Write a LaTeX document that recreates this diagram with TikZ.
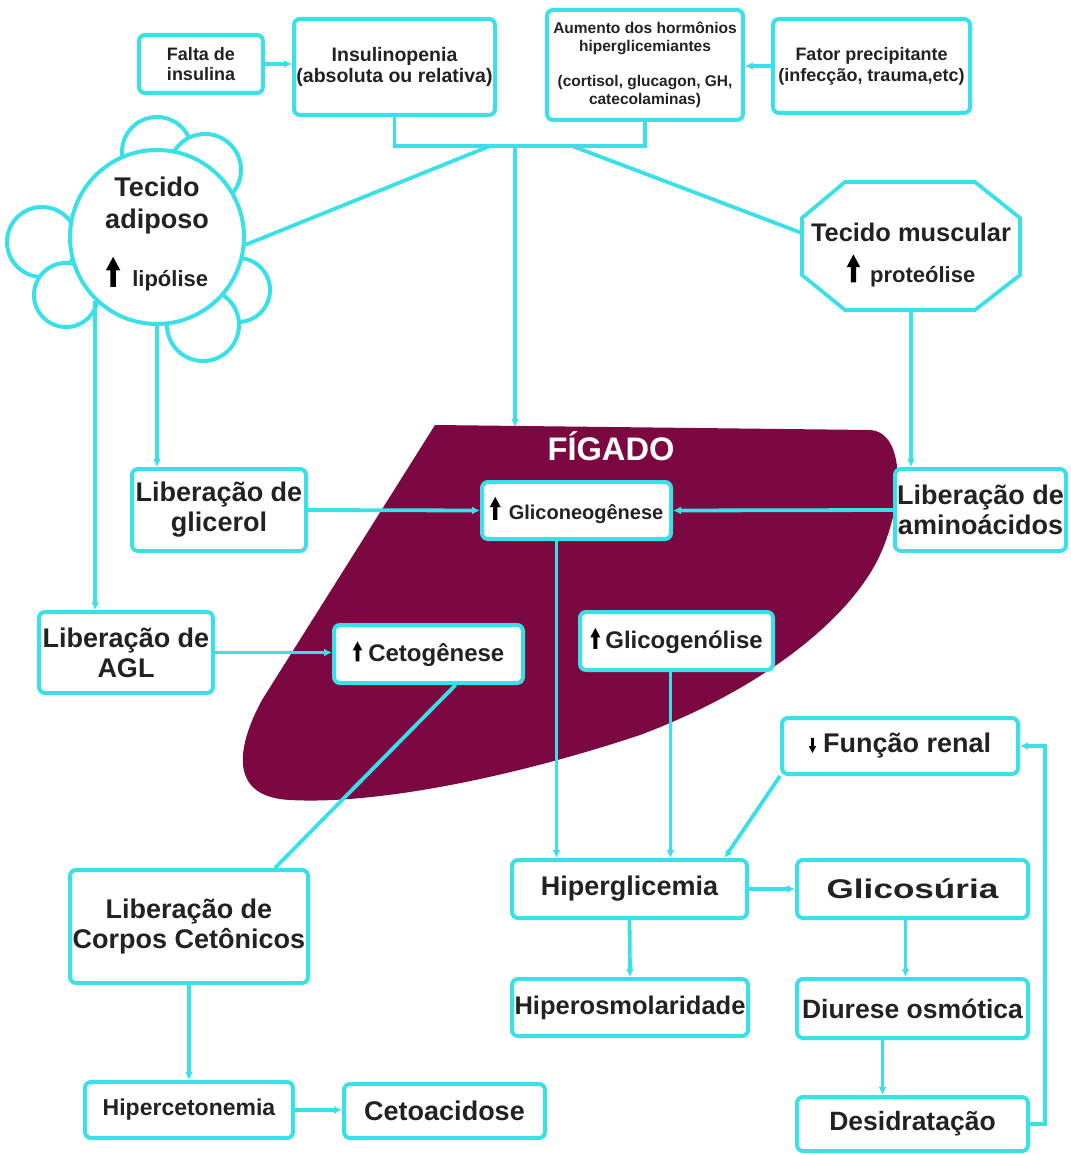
\documentclass[tikz,border=0pt]{standalone}
\usepackage{fontspec}
\setmainfont{Liberation Sans}
\usepackage{graphicx}
\usepackage{tikz}
\usetikzlibrary{arrows.meta}

\definecolor{ciano}{RGB}{58,224,232}
\definecolor{vinho}{RGB}{124,8,66}
\definecolor{escrita}{RGB}{34,34,34}

\newcommand{\fonte}[2]{\fontsize{#1}{#2}\selectfont\bfseries}
\newcommand{\setacima}[1]{\tikz[baseline=0pt,x=#1pt,y=#1pt,sharp corners]\fill[black] (-1.9,0) -- (-1.9,11) -- (-4.8,11) -- (0,20) -- (4.8,11) -- (1.9,11) -- (1.9,0) -- cycle;}
\newcommand{\setabaixo}[1]{\tikz[baseline=0pt,x=#1pt,y=#1pt,sharp corners]\fill[black] (-1.9,20) -- (-1.9,9) -- (-4.8,9) -- (0,0) -- (4.8,9) -- (1.9,9) -- (1.9,20) -- cycle;}

\begin{document}
\begin{tikzpicture}[x=1pt,y=-1pt,
	caixa/.style={draw=ciano,line width=4pt,rounded corners=6pt,fill=white,text=escrita,align=center,inner sep=0pt},
	rotulo/.style={text=escrita,align=center,inner sep=0pt},
	liga/.style={draw=ciano,line width=3.8pt},
	seta/.style={liga,-{Latex[length=8pt,width=8pt]}},
	bolha/.style={circle,draw=ciano,line width=4pt,fill=white,inner sep=0pt}]
	\path[fill=white,use as bounding box] (0,0) rectangle (1070,1155);
	\fill[vinho] (435,425) -- (870,430) .. controls (905,432) and (905,500) .. (880,555) .. controls (850,620) and (760,690) .. (640,735) .. controls (520,775) and (380,805) .. (290,800) .. controls (230,797) and (235,750) .. (262,700) -- cycle;
	\node[font=\fonte{32.6}{36},text=white,inner sep=0pt] (figado) at (611,446) {FÍGADO};

	\node[caixa,minimum width=124,minimum height=58,font=\fonte{18}{20}] (falta) at (201,64) {Falta de\\insulina};
	\node[caixa,minimum width=201,minimum height=96,font=\fonte{19.5}{21}] (insulino) at (394.5,67) {Insulinopenia\\(absoluta ou relativa)};
	\node[caixa,minimum width=196,minimum height=110,font=\fonte{15.5}{17.5}] (aumento) at (645,65) {Aumento dos hormônios\\hiperglicemiantes\\[18pt](cortisol, glucagon, GH,\\catecolaminas)};
	\node[caixa,minimum width=197,minimum height=94,font=\fonte{18}{21}] (fator) at (871.5,66) {Fator precipitante\\(infecção, trauma,etc)};
	\coordinate (juncao) at (515,146);
	\coordinate (juncaoE) at (490,146);
	\coordinate (juncaoD) at (572,146);
	\coordinate (figtopo) at (515,427);

	\node[bolha,minimum size=70] (bolha1) at (157,152) {};
	\node[bolha,minimum size=72] (bolha2) at (205,170) {};
	\node[bolha,minimum size=70] (bolha3) at (42,242) {};
	\node[bolha,minimum size=64] (bolha4) at (66,295) {};
	\node[bolha,minimum size=64] (bolha5) at (238,290) {};
	\node[bolha,minimum size=72] (bolha6) at (203,325) {};
	\node[bolha,minimum size=174] (adiposo) at (157,237) {};
	\node[rotulo,font=\fonte{27}{32}] (adipotxt) at (157,234) {Tecido\\adiposo\\[22pt]{\fonte{22}{26}\setacima{1.5}\hspace{12pt}lipólise}};

	\draw[liga,fill=white] (845,182) -- (975,182) -- (1020,218) -- (1020,275) -- (975,310) -- (845,310) -- (802,275) -- (802,218) -- cycle;
	\node[minimum width=218,minimum height=128,inner sep=0pt] (musculo) at (911,246) {};
	\node[rotulo,font=\fonte{25.4}{29}] (musculotxt) at (911,255) {Tecido muscular\\[12pt]{\fonte{22}{26}\setacima{1.4}\hspace{10pt}proteólise}};

	\node[caixa,minimum width=174,minimum height=82,font=\fonte{27}{30}] (glicerol) at (219,510) {Liberação de\\glicerol};
	\node[caixa,minimum width=189,minimum height=57,font=\fonte{20}{24}] (gliconeo) at (576.5,510.5) {\setacima{1.15}\hspace{8pt}Gliconeogênese};
	\node[caixa,minimum width=171,minimum height=82,font=\fonte{27}{30}] (aminoacidos) at (980.5,510) {Liberação de\\aminoácidos};
	\node[caixa,minimum width=174,minimum height=81,font=\fonte{27}{30}] (agl) at (126,652.5) {Liberação de\\AGL};
	\node[caixa,minimum width=189,minimum height=58,font=\fonte{24}{28}] (ceto) at (428.5,654) {\setacima{1.0}\hspace{6pt}Cetogênese};
	\node[caixa,minimum width=193,minimum height=58,font=\fonte{24}{28}] (glicogeno) at (676.5,641) {\setacima{1.05}\hspace{5pt}Glicogenólise};

	\node[caixa,minimum width=236,minimum height=56,font=\fonte{27}{30}] (funcao) at (900,746) {\setabaixo{0.75}\hspace{7pt}Função renal};
	\node[caixa,minimum width=235,minimum height=58,font=\fonte{27}{30}] (hiperglic) at (629.5,889) {Hiperglicemia};
	\node[caixa,minimum width=231,minimum height=58,font=\fonte{27}{30}] (glicosuria) at (912.5,889) {\scalebox{1.3}[1]{Glicosúria}};
	\node[caixa,minimum width=236,minimum height=57,font=\fonte{25.5}{30}] (hiperosm) at (630,1007.5) {Hiperosmolaridade};
	\node[caixa,minimum width=231,minimum height=59,font=\fonte{26.5}{30}] (diurese) at (912.5,1008.5) {Diurese osmótica};
	\node[caixa,minimum width=231,minimum height=54,font=\fonte{26.5}{30}] (desidrat) at (912.5,1124) {Desidratação};
	\node[caixa,minimum width=238,minimum height=113,font=\fonte{27}{30}] (corpos) at (189,926.5) {Liberação de\\Corpos Cetônicos};
	\node[caixa,minimum width=208,minimum height=56,font=\fonte{23}{28}] (hipercet) at (189,1110) {Hipercetonemia};
	\node[caixa,minimum width=201,minimum height=54,font=\fonte{27}{30}] (cetoac) at (444.5,1111) {Cetoacidose};

	\draw[seta] (falta.east) -- (falta.east -| insulino.west);
	\draw[seta] (fator.west) -- (fator.west -| aumento.east);
	\draw[liga] (insulino.south) |- (juncao) -| (aumento.south);
	\draw[liga] (juncaoE) -- (adiposo.-5);
	\draw[liga] (juncaoD) -- ([yshift=13pt]musculo.west);
	\draw[seta] (juncao) -- (figtopo);
	\draw[seta] (adiposo.south) -- (adiposo.south |- glicerol.north);
	\draw[seta] (adiposo.-134) -- (adiposo.-134 |- agl.north);
	\draw[seta] (musculo.south) -- (musculo.south |- aminoacidos.north);
	\draw[seta] (glicerol.east) -- (gliconeo.west);
	\draw[seta] (aminoacidos.west) -- (gliconeo.east);
	\draw[seta] (agl.east) -- (agl.east -| ceto.west);
	\draw[seta] ([xshift=-20pt]gliconeo.south) -- ([xshift=-20pt]gliconeo.south |- hiperglic.north);
	\draw[seta] ([xshift=-6pt]glicogeno.south) -- ([xshift=-6pt]glicogeno.south |- hiperglic.north);
	\draw[liga] ([xshift=27pt]ceto.south) -- ([xshift=86pt]corpos.north);
	\draw[seta] (corpos.south) -- (hipercet.north);
	\draw[seta] (hipercet.east) -- (hipercet.east -| cetoac.west);
	\draw[seta] (funcao.south west) -- ([xshift=95pt]hiperglic.north);
	\draw[seta] (hiperglic.east) -- (glicosuria.west);
	\draw[seta] (hiperglic.south) -- (hiperosm.north);
	\draw[seta] ([xshift=-7pt]glicosuria.south) -- ([xshift=-7pt]glicosuria.south |- diurese.north);
	\draw[seta] ([xshift=-30pt]diurese.south) -- ([xshift=-30pt]diurese.south |- desidrat.north);
	\draw[seta] (desidrat.east) -- ++(15,0) |- (funcao.east);
\end{tikzpicture}
\end{document}
